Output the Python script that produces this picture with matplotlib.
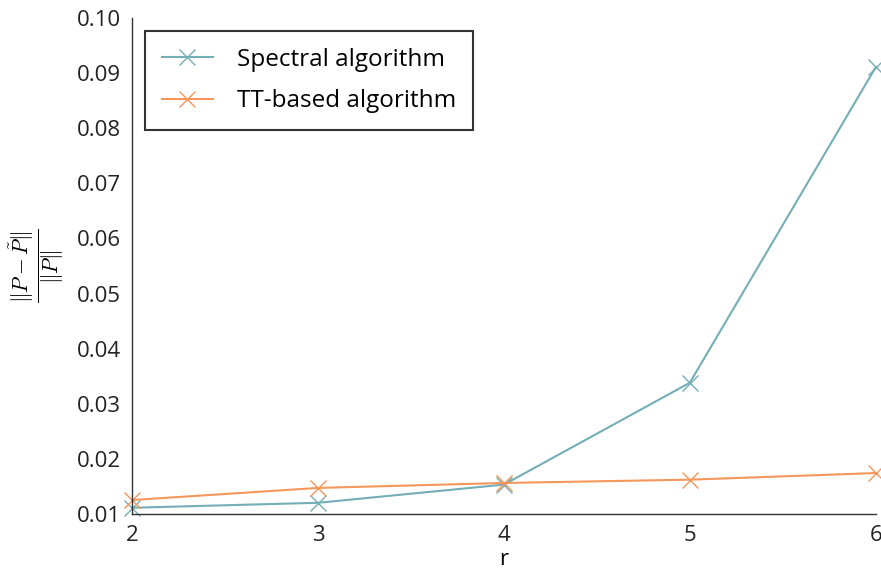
import matplotlib.pyplot as plt

r_values = [2, 3, 4, 5, 6]
spectral_err = [0.0111, 0.0120, 0.0153, 0.0338, 0.0911]
tt_err = [0.0125, 0.0147, 0.0156, 0.0162, 0.0174]

plt.rcParams['font.family'] = ['Open Sans', 'DejaVu Sans']
plt.rcParams['mathtext.fontset'] = 'cm'

fig = plt.figure(figsize=(8.81, 5.69), dpi=100)
ax = fig.add_axes([0.15, 0.097, 0.844, 0.871])

ax.plot(r_values, spectral_err, color='#74aeb6', marker='x', markersize=12,
        markeredgewidth=1.0, linewidth=1.5, label='Spectral algorithm', clip_on=False)
ax.plot(r_values, tt_err, color='#f5965a', marker='x', markersize=12,
        markeredgewidth=1.0, linewidth=1.5, label='TT-based algorithm', clip_on=False)

ax.set_xlim(2, 6)
ax.set_ylim(0.01, 0.10)
ax.set_xticks(r_values)
ax.set_yticks([0.01 * i for i in range(1, 11)])
ax.set_yticklabels([f'{0.01 * i:.2f}' for i in range(1, 11)])
ax.tick_params(length=0, labelsize=16, pad=8, colors='#222222')

for side in ['top', 'right']:
    ax.spines[side].set_visible(False)
for side in ['left', 'bottom']:
    ax.spines[side].set_color('#333333')
    ax.spines[side].set_linewidth(1.0)

ax.set_xlabel('r', fontsize=16, labelpad=2)
ax.set_ylabel(r'$\frac{\|P - \tilde{P}\|}{\|P\|}$', fontsize=22, labelpad=8)

leg = ax.legend(loc='upper left', bbox_to_anchor=(0.0175, 0.974), fontsize=17.5,
                frameon=True, fancybox=False, edgecolor='black',
                handlelength=2.1, handletextpad=1.0, borderpad=0.68,
                labelspacing=0.72, borderaxespad=0)
leg.get_frame().set_linewidth(1.5)

fig.savefig('out.png', dpi=100)
